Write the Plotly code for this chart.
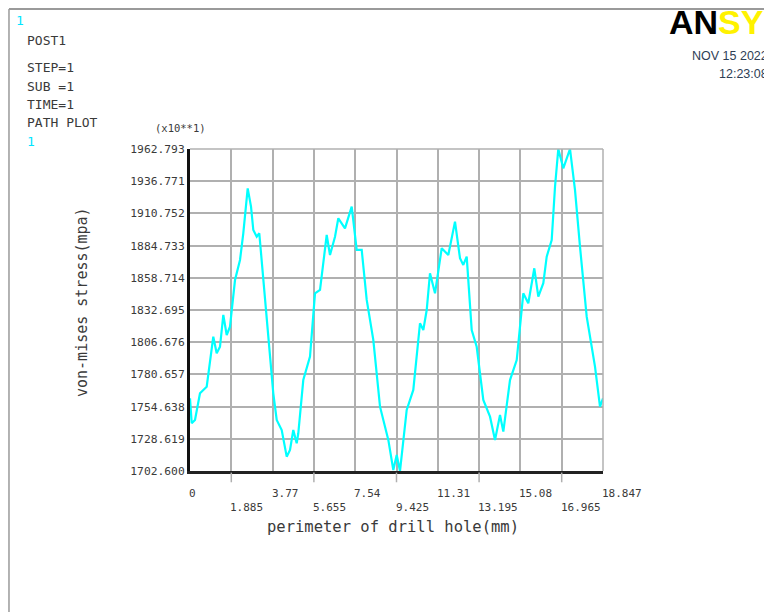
import plotly.graph_objects as go

# ---- data ----
perimeter_mm = [0.000, 0.078, 0.228, 0.456, 0.762, 0.990, 1.063, 1.218, 1.369, 1.520,
                1.675, 1.825, 2.054, 2.282, 2.432, 2.633, 2.784, 2.889, 3.044, 3.162,
                3.345, 3.573, 3.801, 3.957, 4.185, 4.413, 4.564, 4.714, 4.869, 4.942,
                5.170, 5.476, 5.704, 5.933, 6.238, 6.389, 6.617, 6.768, 7.073, 7.379,
                7.607, 7.836, 8.064, 8.365, 8.671, 9.050, 9.278, 9.433, 9.583, 9.889,
                10.190, 10.496, 10.647, 10.802, 10.952, 11.181, 11.486, 11.788, 12.093, 12.321,
                12.472, 12.627, 12.855, 13.083, 13.385, 13.691, 13.919, 14.147, 14.298, 14.603,
                14.909, 15.210, 15.438, 15.712, 15.895, 16.123, 16.278, 16.506, 16.657, 16.807,
                17.035, 17.341, 17.569, 17.797, 18.103, 18.482, 18.710, 18.847]
stress_mpa = [1761.3, 1741.2, 1743.8, 1765.4, 1770.7, 1800.4, 1811.1, 1797.7, 1803.0, 1828.7,
              1812.5, 1819.2, 1856.9, 1873.1, 1894.7, 1931.0, 1916.2, 1897.3, 1891.9, 1894.7,
              1856.9, 1813.9, 1765.4, 1743.8, 1735.7, 1714.2, 1719.6, 1735.7, 1725.0, 1733.1,
              1776.1, 1795.0, 1846.2, 1848.9, 1893.3, 1877.1, 1891.9, 1906.8, 1898.7, 1916.2,
              1881.2, 1881.2, 1840.8, 1808.5, 1754.6, 1727.7, 1703.4, 1715.5, 1702.6, 1751.9,
              1768.1, 1822.0, 1816.5, 1832.7, 1862.4, 1846.2, 1882.6, 1877.1, 1904.1, 1874.5,
              1869.1, 1875.8, 1816.5, 1803.0, 1760.0, 1746.5, 1727.7, 1747.9, 1734.4, 1776.1,
              1792.3, 1846.2, 1838.1, 1866.4, 1843.5, 1854.3, 1875.8, 1889.3, 1932.3, 1962.8,
              1947.2, 1962.8, 1929.7, 1883.9, 1827.3, 1786.9, 1754.6, 1761.3]

y_tick_labels = ["1702.600", "1728.619", "1754.638", "1780.657", "1806.676", "1832.695",
                 "1858.714", "1884.733", "1910.752", "1936.771", "1962.793"]
x_tick_labels = ["0", "1.885", "3.77", "5.655", "7.54", "9.425", "11.31", "13.195",
                 "15.08", "16.965", "18.847"]

y_tick_vals = [float(v) for v in y_tick_labels]
x_tick_vals = [18.847 * i / 10 for i in range(len(x_tick_labels))]

MONO = "DejaVu Sans Mono"
TXT = "#3a3a3a"
GRID = "#b0b0b0"

fig = go.Figure()
fig.add_trace(go.Scatter(x=perimeter_mm, y=stress_mpa, mode="lines",
                         line=dict(color="#00FFFF", width=2.2), showlegend=False,
                         cliponaxis=True))

fig.update_layout(
    width=772, height=612, autosize=False,
    margin=dict(l=182, r=177, t=141, b=149),
    paper_bgcolor="white", plot_bgcolor="white",
    xaxis=dict(range=[0, 18.847], tickvals=x_tick_vals, showticklabels=False,
               showgrid=True, gridcolor=GRID, gridwidth=1.5,
               showline=True, linecolor="#222", linewidth=3, mirror=False,
               zeroline=False, ticks=""),
    yaxis=dict(range=[1702.6, 1962.793], tickvals=y_tick_vals, ticktext=y_tick_labels,
               showgrid=True, gridcolor=GRID, gridwidth=1.5,
               showline=True, linecolor="#111", linewidth=3,
               zeroline=False, ticks="",
               tickfont=dict(family=MONO, size=11.3, color=TXT)),
)

shapes = []
# right and top plot frame (grey)
shapes.append(dict(type="line", xref="paper", yref="paper", x0=1, x1=1, y0=0, y1=1,
                   line=dict(color=GRID, width=1.5)))
shapes.append(dict(type="line", xref="paper", yref="paper", x0=0, x1=1, y0=1, y1=1,
                   line=dict(color=GRID, width=1.5)))
# small tick marks below axis at odd ticks
for i, xv in enumerate(x_tick_vals):
    if i % 2 == 1:
        shapes.append(dict(type="line", xref="x", yref="paper", x0=xv, x1=xv,
                           y0=-0.005, y1=-0.035, line=dict(color=GRID, width=1.5)))
# outer window frame
shapes.append(dict(type="line", xref="paper", yref="paper", x0=-0.4383, x1=1.45,
                   y0=1.4348, y1=1.4348, line=dict(color="#9a9a9a", width=2)))
shapes.append(dict(type="line", xref="paper", yref="paper", x0=-0.4383, x1=-0.4383,
                   y0=1.4348, y1=-0.45, line=dict(color="#9a9a9a", width=1.5)))
fig.update_layout(shapes=shapes)

ann = []
# x tick labels in two staggered rows, left-aligned at each tick
for i, (xv, lab) in enumerate(zip(x_tick_vals, x_tick_labels)):
    ann.append(dict(x=xv, y=0, xref="x", yref="paper", text=lab, showarrow=False,
                    yanchor="middle", xanchor="left", xshift=-3,
                    yshift=-22 if i % 2 == 0 else -36,
                    font=dict(family=MONO, size=11, color=TXT)))

def paper_xy(px, py):
    return (px - 190) / 413, (471 - py) / 322

x, y = paper_xy(393, 527)
ann.append(dict(x=x, y=y, xref="paper", yref="paper",
                text="perimeter of drill hole(mm)", showarrow=False,
                xanchor="center", yanchor="middle",
                font=dict(family=MONO, size=15.5, color=TXT)))
x, y = paper_xy(82, 302)
ann.append(dict(x=x, y=y, xref="paper", yref="paper", textangle=-90,
                text="von-mises stress(mpa)", showarrow=False,
                xanchor="center", yanchor="middle",
                font=dict(family=MONO, size=15, color=TXT)))
x, y = paper_xy(180, 128)
ann.append(dict(x=x, y=y, xref="paper", yref="paper", text="(x10**1)",
                showarrow=False, xanchor="center", yanchor="middle",
                font=dict(family=MONO, size=10.5, color=TXT)))

# left header text
hdr = [("1", 14, 21, "#00E5FF", 13), ("POST1", 25, 40, TXT, 13),
       ("STEP=1", 25, 67, TXT, 13), ("SUB =1", 25, 86, TXT, 13),
       ("TIME=1", 25, 104, TXT, 13), ("PATH PLOT", 25, 122, TXT, 13),
       ("1", 25, 142, "#00E5FF", 13)]
for t, px, py, c, s in hdr:
    x, y = paper_xy(px, py)
    ann.append(dict(x=x, y=y, xref="paper", yref="paper", text=t, showarrow=False,
                    xanchor="left", yanchor="middle",
                    font=dict(family=MONO, size=s, color=c)))

x, y = paper_xy(667, 22)
ann.append(dict(x=x, y=y, xref="paper", yref="paper", showarrow=False,
                xanchor="left", yanchor="middle",
                text="<b><span style='color:#000'>AN</span><span style='color:#FFF200'>SYS</span></b>",
                font=dict(family="Liberation Sans", size=34, color="#000")))
x, y = paper_xy(770, 56)
ann.append(dict(x=x, y=y, xref="paper", yref="paper", showarrow=False,
                xanchor="right", yanchor="middle", text="NOV 15 2022",
                font=dict(family="Liberation Sans", size=12.5, color="#2e3e55")))
x, y = paper_xy(770, 74)
ann.append(dict(x=x, y=y, xref="paper", yref="paper", showarrow=False,
                xanchor="right", yanchor="middle", text="12:23:08",
                font=dict(family="Liberation Sans", size=12.5, color="#2e3e55")))

fig.update_layout(annotations=ann)
fig.write_html("out.html")
